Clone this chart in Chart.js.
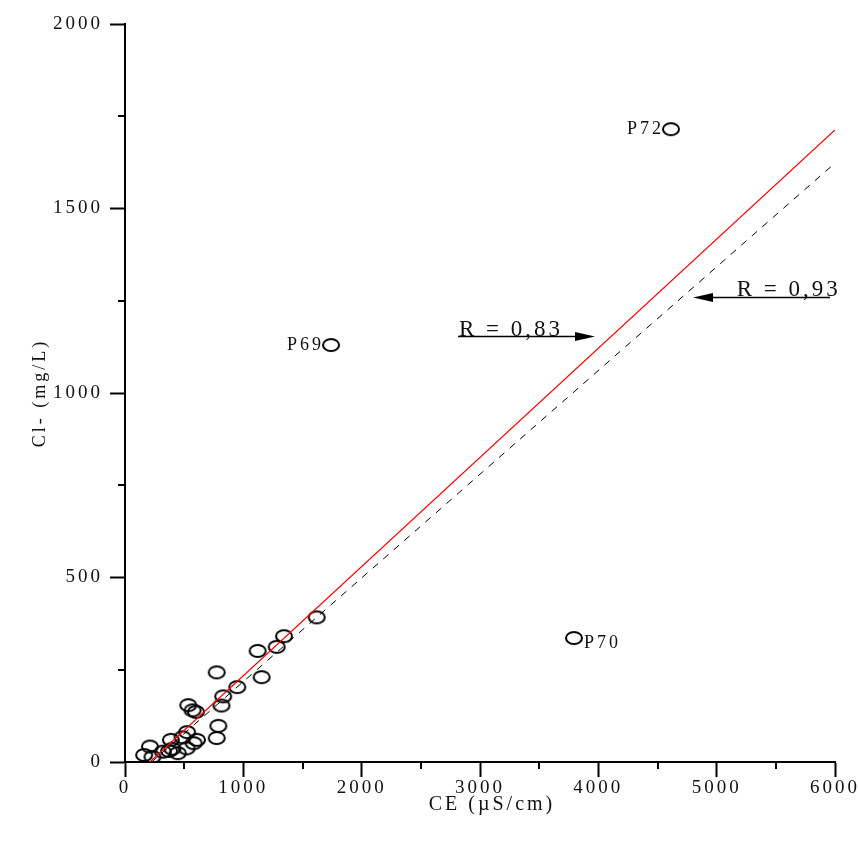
<!DOCTYPE html>
<html>
<head>
<meta charset="utf-8">
<title>Cl- vs CE</title>
<script src="https://cdn.jsdelivr.net/npm/chart.js@4/dist/chart.umd.min.js"></script>
<style>
  html, body { margin: 0; padding: 0; background: #fff; }
  canvas { display: block; }
</style>
</head>
<body>
<canvas id="c" width="858" height="841"></canvas>
<script>
// Conductivity (µS/cm) and chloride (mg/L) of the sampled wells
const ceValues = [1620, 1344, 1282, 1121, 1155, 775, 949, 830, 815, 535, 600, 571,
                  789, 775, 525, 486, 580, 608, 388, 446, 372, 320, 211, 162, 232, 400, 521];
const clValues = [392, 341, 312, 301, 230, 243, 203, 178, 153, 154, 136, 140,
                  98, 65, 81, 67, 51, 60, 60, 24, 30, 28, 42, 19, 14, 36, 37];

// Named wells
const wellNames = ['P69', 'P70', 'P72'];
const wellCE = [1741, 3794, 4614];
const wellCl = [1130, 336, 1715];

// Regression lines (end points)
const fitAllCE = [210, 6000];
const fitAllCl = [0, 1713];
const fitSubCE = [225, 6000];
const fitSubCl = [0, 1623];

// Correlation labels
const rLabels = ['R = 0,83', 'R = 0,93'];

// Axis ticks
const xTicks = [0, 1000, 2000, 3000, 4000, 5000, 6000];
const yTicks = [0, 500, 1000, 1500, 2000];
const xMinorTicks = [500, 1500, 2500, 3500, 4500, 5500];
const yMinorTicks = [250, 750, 1250, 1750];

const toPoints = (xs, ys) => xs.map((x, i) => ({ x, y: ys[i] }));

// Open ellipse marker
function makeMarker() {
  const m = document.createElement('canvas');
  m.width = 20; m.height = 16;
  const g = m.getContext('2d');
  g.strokeStyle = '#000';
  g.lineWidth = 2;
  g.beginPath();
  g.ellipse(10, 8, 8, 6, 0, 0, Math.PI * 2);
  g.stroke();
  return m;
}
const marker = makeMarker();

const SERIF = '"Liberation Serif", "Times New Roman", serif';

// Wide letter spacing for all text
const spacing = {
  id: 'spacing',
  beforeUpdate(chart) { chart.ctx.letterSpacing = '3px'; },
  beforeDraw(chart) { chart.ctx.letterSpacing = '3px'; }
};

// Minor ticks, well names, correlation arrows
const extras = {
  id: 'extras',
  afterDraw(chart) {
    const ctx = chart.ctx;
    const xs = chart.scales.x, ys = chart.scales.y;
    const a = chart.chartArea;
    ctx.save();
    ctx.letterSpacing = '3px';
    ctx.strokeStyle = '#000';
    ctx.lineWidth = 2;
    ctx.beginPath();
    xMinorTicks.forEach(v => {
      const px = Math.round(xs.getPixelForValue(v));
      ctx.moveTo(px, a.bottom); ctx.lineTo(px, a.bottom + 7);
    });
    yMinorTicks.forEach(v => {
      const py = Math.round(ys.getPixelForValue(v));
      ctx.moveTo(a.left, py); ctx.lineTo(a.left - 7, py);
    });
    ctx.stroke();

    // well names
    ctx.fillStyle = '#111';
    ctx.font = '18px ' + SERIF;
    ctx.textBaseline = 'middle';
    wellNames.forEach((n, i) => {
      const px = xs.getPixelForValue(wellCE[i]);
      const py = ys.getPixelForValue(wellCl[i]);
      if (n === 'P70') {
        ctx.textAlign = 'left';
        ctx.fillText(n, px + 10, py + 5);
      } else {
        ctx.textAlign = 'right';
        ctx.fillText(n, px - 7, py);
      }
    });

    // correlation arrows
    function arrow(x0, x1, yv) {
      const p0 = xs.getPixelForValue(x0), p1 = xs.getPixelForValue(x1);
      const py = Math.round(ys.getPixelForValue(yv)) + 0.5;
      const dir = Math.sign(p1 - p0);
      ctx.lineWidth = 1.5;
      ctx.beginPath();
      ctx.moveTo(p0, py); ctx.lineTo(p1 - dir * 18, py);
      ctx.stroke();
      ctx.beginPath();
      ctx.moveTo(p1, py);
      ctx.lineTo(p1 - dir * 20, py - 4.5);
      ctx.lineTo(p1 - dir * 20, py + 4.5);
      ctx.closePath();
      ctx.fill();
      return py;
    }
    ctx.fillStyle = '#000';
    const yA = arrow(2814, 3972, 1154);
    const yB = arrow(5958, 4800, 1261);
    ctx.font = '23px ' + SERIF;
    ctx.textAlign = 'left';
    ctx.textBaseline = 'alphabetic';
    ctx.fillStyle = '#111';
    ctx.fillText(rLabels[0], xs.getPixelForValue(2814) + 1, yA - 1);
    ctx.fillText(rLabels[1], xs.getPixelForValue(5170), yB - 2);
    ctx.restore();
  }
};

const plain = v => String(v);

new Chart(document.getElementById('c'), {
  type: 'scatter',
  data: {
    datasets: [
      {
        type: 'line',
        data: toPoints(fitSubCE, fitSubCl),
        borderColor: '#000',
        borderWidth: 1,
        borderDash: [7, 7],
        pointRadius: 0,
        fill: false
      },
      {
        type: 'line',
        data: toPoints(fitAllCE, fitAllCl),
        borderColor: '#ff0000',
        borderWidth: 1.2,
        pointRadius: 0,
        fill: false
      },
      {
        data: toPoints(ceValues, clValues).concat(toPoints(wellCE, wellCl)),
        pointStyle: marker,
        pointRadius: 8,
        showLine: false
      }
    ]
  },
  options: {
    responsive: false,
    animation: false,
    layout: { padding: { top: 24, right: 23, bottom: 0, left: 0 } },
    plugins: { legend: { display: false }, tooltip: { enabled: false } },
    scales: {
      x: {
        type: 'linear',
        min: 0, max: 6000,
        afterFit(s) { s.height = 79; s.paddingLeft = 0; s.paddingRight = 0; },
        afterBuildTicks(s) { s.ticks = xTicks.map(v => ({ value: v })); },
        border: { display: true, color: '#000', width: 2 },
        grid: { drawOnChartArea: false, drawTicks: true, tickLength: 15, tickColor: '#000', tickWidth: 2 },
        ticks: { color: '#111', font: { family: SERIF, size: 19 }, padding: 0, maxRotation: 0, callback: plain },
        title: { display: true, text: '   CE (µS/cm)', color: '#111', font: { family: SERIF, size: 20 }, padding: { top: 0, bottom: 24 } }
      },
      y: {
        type: 'linear',
        min: 0, max: 2000,
        afterFit(s) { s.width = 125; s.paddingTop = 0; s.paddingBottom = 0; },
        afterBuildTicks(s) { s.ticks = yTicks.map(v => ({ value: v })); },
        border: { display: true, color: '#000', width: 2 },
        grid: { drawOnChartArea: false, drawTicks: true, tickLength: 15, tickColor: '#000', tickWidth: 2 },
        ticks: { color: '#111', font: { family: SERIF, size: 19 }, padding: 7, callback: plain },
        title: { display: true, text: 'Cl- (mg/L)', color: '#111', font: { family: SERIF, size: 18 }, padding: { top: 29, bottom: 0 } }
      }
    }
  },
  plugins: [spacing, extras]
});
</script>
</body>
</html>
